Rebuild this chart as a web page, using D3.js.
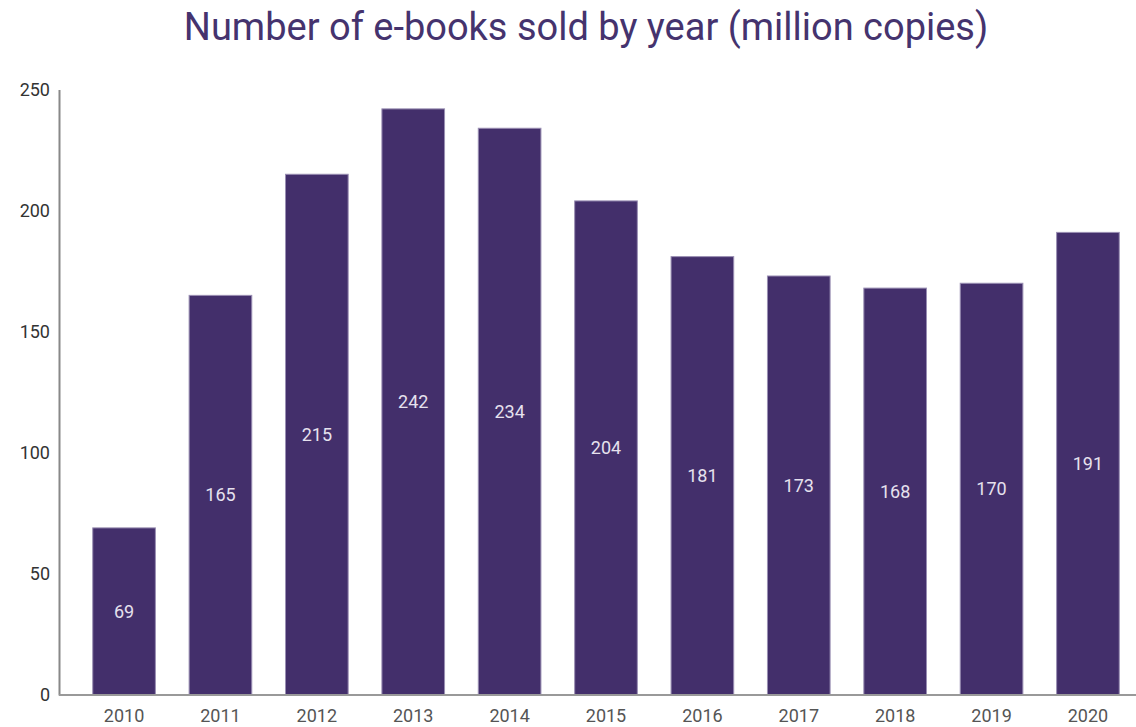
<!DOCTYPE html>
<html>
  <head>
    <meta charset="UTF-8">
    <title>E-books sold</title>
    <script src="https://d3js.org/d3.v7.min.js"></script>
    <style>
      body { margin: 0; background: #fff; }
      text { font-family: Roboto, sans-serif; }
    </style>
  </head>
  <body>
    <svg id="chart" width="1136" height="727"></svg>
    <script>
      // Data
      const years = ["2010", "2011", "2012", "2013", "2014", "2015", "2016", "2017", "2018", "2019", "2020"];
      const sold = [69, 165, 215, 242, 234, 204, 181, 173, 168, 170, 191];
      const yTicks = [0, 50, 100, 150, 200, 250];

      const svg = d3.select("#chart");
      const barColor = "#432f6b";

      const x = d3.scaleBand()
        .domain(years)
        .range([59, 1153])
        .paddingInner(0.35)
        .paddingOuter(0.35);

      const y = d3.scaleLinear()
        .domain([0, 250])
        .range([695, 89.5]);

      // Title
      svg.append("text")
        .attr("x", 586)
        .attr("y", 40)
        .attr("text-anchor", "middle")
        .attr("fill", "#45336e")
        .attr("font-size", 38)
        .text("Number of e-books sold by year (million copies)");

      // Bars
      svg.append("g")
        .selectAll("rect")
        .data(sold)
        .join("rect")
        .attr("x", (d, i) => x(years[i]))
        .attr("y", d => y(d))
        .attr("width", x.bandwidth())
        .attr("height", d => y(0) - y(d))
        .attr("fill", barColor)
        .attr("stroke", "#9a8fb3")
        .attr("stroke-width", 1);

      // Value labels in the middle of each bar
      svg.append("g")
        .selectAll("text")
        .data(sold)
        .join("text")
        .attr("x", (d, i) => x(years[i]) + x.bandwidth() / 2)
        .attr("y", d => (y(d) + y(0)) / 2)
        .attr("dy", "0.35em")
        .attr("text-anchor", "middle")
        .attr("fill", "#e6e1ee")
        .attr("font-size", 18)
        .text(d => d);

      // Y axis
      const yAxis = svg.append("g")
        .attr("transform", "translate(59,0)")
        .call(d3.axisLeft(y).tickValues(yTicks).tickSize(0).tickPadding(9));
      yAxis.select(".domain").attr("stroke", "#888").attr("stroke-width", 2);
      yAxis.selectAll("text").attr("font-size", 18).attr("fill", "#333").attr("font-family", "Roboto, sans-serif");

      // X axis
      const xAxis = svg.append("g")
        .attr("transform", "translate(0,695)")
        .call(d3.axisBottom(x).tickSize(0).tickPadding(14));
      xAxis.select(".domain").attr("d", "M59,0H1136").attr("stroke", "#999").attr("stroke-width", 2);
      xAxis.selectAll("text").attr("font-size", 18).attr("fill", "#555").attr("font-family", "Roboto, sans-serif");
    </script>
  </body>
</html>
